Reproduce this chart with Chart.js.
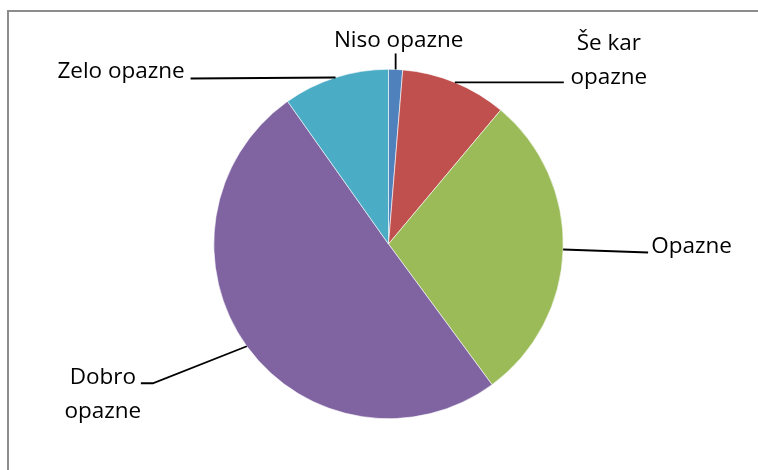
<!DOCTYPE html>
<html>
<head>
<meta charset="utf-8">
<script src="https://cdn.jsdelivr.net/npm/chart.js@4/dist/chart.umd.min.js"></script>
<style>
  html, body { margin: 0; padding: 0; background: #fff; overflow: hidden; }
  #wrap { position: relative; width: 758px; height: 470px; }
  #frame { position: absolute; left: 7px; top: 10px; width: 800px; height: 500px;
           border-left: 2px solid #8c8c8c; border-top: 2px solid #8c8c8c; box-sizing: border-box; }
  canvas { position: absolute; left: 0; top: 0; }
</style>
</head>
<body>
<div id="wrap">
  <div id="frame"></div>
  <canvas id="c" width="758" height="470"></canvas>
</div>
<script>
// Data (percent shares)
const categories = ["Niso opazne", "Še kar opazne", "Opazne", "Dobro opazne", "Zelo opazne"];
const labelLines = [["Niso opazne"], ["Še kar", "opazne"], ["Opazne"], ["Dobro", "opazne"], ["Zelo opazne"]];
const values = [1.3, 9.8, 28.8, 50.3, 9.8];
const colors = ["#4F81BD", "#C0504D", "#9BBB59", "#8064A2", "#4BACC6"];

// Label layout (offsets relative to each slice's outer mid-point)
const labelLayout = [
  { path: [[0, -16]], text: [3, -22] },
  { path: [[109, 0]], text: [154, -32] },
  { path: [[85, 3]], text: [128.5, 4] },
  { path: [[-94, 37], [-106, 37]], text: [-144, 38] },
  { path: [[-145, 1]], text: [-214.5, 0] }
];

const outsideLabels = {
  id: 'outsideLabels',
  afterDatasetsDraw(chart) {
    const ctx = chart.ctx;
    const meta = chart.getDatasetMeta(0);
    ctx.save();
    ctx.font = '22.5px "Open Sans"';
    ctx.fillStyle = '#000';
    ctx.strokeStyle = '#000';
    ctx.lineWidth = 1.8;
    ctx.textAlign = 'center';
    ctx.textBaseline = 'alphabetic';
    meta.data.forEach((arc, i) => {
      const p = arc.getProps(['x', 'y', 'startAngle', 'endAngle', 'outerRadius'], true);
      const a = (p.startAngle + p.endAngle) / 2;
      const px = p.x + Math.cos(a) * p.outerRadius;
      const py = p.y + Math.sin(a) * p.outerRadius;
      const lay = labelLayout[i];
      ctx.beginPath();
      ctx.moveTo(px, py);
      lay.path.forEach(([dx, dy]) => ctx.lineTo(px + dx, py + dy));
      ctx.stroke();
      const lines = labelLines[i];
      lines.forEach((t, k) => {
        ctx.fillText(t, px + lay.text[0], py + lay.text[1] + k * 33.5);
      });
    });
    ctx.restore();
  }
};

new Chart(document.getElementById('c'), {
  type: 'pie',
  data: {
    labels: categories,
    datasets: [{
      data: values,
      backgroundColor: colors,
      borderColor: '#ffffff',
      borderWidth: 0.6
    }]
  },
  options: {
    responsive: false,
    animation: false,
    layout: { padding: { left: 213, right: 194, top: 69, bottom: 51 } },
    plugins: {
      legend: { display: false },
      tooltip: { enabled: false }
    }
  },
  plugins: [outsideLabels]
});
</script>
</body>
</html>
